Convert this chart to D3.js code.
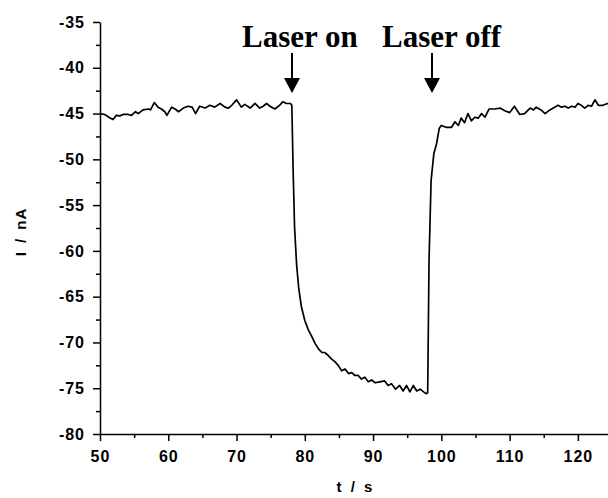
<!DOCTYPE html>
<html>
<head>
<meta charset="utf-8">
<script src="https://cdn.jsdelivr.net/npm/d3@7"></script>
<style>
    html, body { margin: 0; padding: 0; background: #fff; }
    svg { display: block; }
</style>
</head>
<body>
<svg id="chart"></svg>
<script>
// Photocurrent trace
const timeS = [
    50.0, 50.7, 51.3, 51.9, 52.4, 52.9, 53.4, 54.1, 54.6, 55.2, 55.6, 56.3, 57.1, 57.4, 57.95,
    58.5, 59.0, 59.5, 59.8, 60.5, 61.0, 61.5, 62.2, 62.9, 63.5, 64.0, 64.6, 65.4, 66.1, 66.8,
    67.6, 68.3, 68.8, 69.3, 70.0, 70.7, 71.2, 72.0, 72.7, 73.4, 73.9, 74.4, 74.9, 75.6, 76.3,
    76.8, 77.3, 77.9, 78.1, 78.3, 78.5, 78.8, 79.1, 79.5, 80.0, 80.5, 81.0, 81.5, 82.0, 82.5,
    82.9, 83.4, 83.9, 84.4, 84.9, 85.4, 85.9, 86.4, 86.9, 87.3, 87.8, 88.3, 88.8, 89.3, 89.8,
    90.3, 91.0, 91.7, 92.2, 92.7, 93.3, 93.9, 94.4, 94.9, 95.4, 95.9, 96.4, 96.9, 97.4, 97.8,
    98.0, 98.2, 98.5, 98.9, 99.3, 99.7, 100.0, 100.7, 101.5, 102.0, 102.5, 102.9, 103.4, 103.9, 104.4,
    104.9, 105.4, 105.9, 106.4, 107.0, 107.8, 108.6, 109.3, 110.0, 110.7, 111.5, 112.2, 113.0, 113.5, 113.9,
    114.6, 115.2, 115.9, 116.6, 117.1, 117.6, 118.1, 118.6, 119.1, 119.6, 120.0, 120.5, 121.0, 121.5, 122.0,
    122.5, 123.0, 123.7, 124.3, 125.0
];
const currentNA = [
    -45.0, -45.1, -45.4, -45.65, -45.2, -45.25, -45.1, -45.1, -45.2, -44.8, -45.0, -44.6, -44.5, -44.6, -43.8,
    -44.3, -44.5, -44.8, -45.2, -44.3, -44.5, -44.8, -44.4, -44.2, -44.3, -45.0, -44.2, -44.4, -44.1, -44.3,
    -43.9, -44.3, -44.4, -44.1, -43.5, -44.3, -44.0, -44.4, -43.9, -44.4, -44.2, -43.9, -44.2, -44.5, -44.1,
    -43.7, -43.9, -43.9, -44.1, -51.5, -57.4, -61.5, -64.0, -66.1, -67.6, -68.6, -69.3, -70.1, -70.7, -71.1,
    -71.1, -71.4, -71.8, -72.1, -72.5, -73.1, -72.9, -73.4, -73.3, -73.6, -73.6, -74.0, -73.8, -74.3, -74.1,
    -74.4, -74.3, -74.2, -74.7, -74.5, -75.1, -74.7, -75.3, -74.7, -75.4, -74.7, -75.3, -75.1, -75.4, -75.6,
    -75.5, -61.0, -52.3, -49.4, -48.3, -46.6, -46.3, -46.5, -46.5, -45.9, -46.3, -45.5, -46.0, -45.0, -45.8,
    -45.4, -45.5, -45.0, -45.4, -44.5, -44.5, -44.4, -44.7, -44.9, -44.2, -45.1, -45.0, -44.4, -44.6, -44.3,
    -44.6, -45.0, -44.6, -44.3, -44.1, -44.3, -44.2, -44.4, -44.2, -44.3, -43.9, -44.1, -44.4, -44.1, -44.2,
    -43.5, -44.1, -44.1, -43.9, -44.0
];

// Axis ticks
const xMajorTicks = [50, 60, 70, 80, 90, 100, 110, 120];
const xMinorTicks = [55, 65, 75, 85, 95, 105, 115, 125];
const yMajorTicks = [-80, -75, -70, -65, -60, -55, -50, -45, -40, -35];
const yMinorTicks = [-77.5, -72.5, -67.5, -62.5, -57.5, -52.5, -47.5, -42.5, -37.5];

// Annotations: label and time where the arrow points
const annotationLabels = ["Laser on", "Laser off"];
const annotationTimes = [78.1, 98.6];

const svgWidth = 608;
const svgHeight = 498;

const svg = d3.select("#chart")
    .attr("width", svgWidth)
    .attr("height", svgHeight);

// Scales
const x = d3.scaleLinear()
    .domain([50, 125])
    .range([100, 612]);

const y = d3.scaleLinear()
    .domain([-80, -35])
    .range([434, 22]);

const tickFont = "Arial, 'Liberation Sans', sans-serif";

// plain hyphen for negatives, like the original
const plainFormat = d => String(d);

// X axis, major then minor ticks
svg.append("g")
    .attr("transform", `translate(0,${y(-80)})`)
    .call(d3.axisBottom(x)
        .tickValues(xMajorTicks)
        .tickSize(7)
        .tickSizeOuter(0)
        .tickPadding(10)
        .tickFormat(plainFormat));

svg.append("g")
    .attr("transform", `translate(0,${y(-80)})`)
    .call(d3.axisBottom(x)
        .tickValues(xMinorTicks)
        .tickSize(4)
        .tickSizeOuter(0)
        .tickFormat(""))
    .call(g => g.select(".domain").remove());

// Y axis, major then minor ticks
svg.append("g")
    .attr("transform", `translate(${x(50)},0)`)
    .call(d3.axisLeft(y)
        .tickValues(yMajorTicks)
        .tickSize(7)
        .tickSizeOuter(0)
        .tickPadding(8)
        .tickFormat(plainFormat));

svg.append("g")
    .attr("transform", `translate(${x(50)},0)`)
    .call(d3.axisLeft(y)
        .tickValues(yMinorTicks)
        .tickSize(4)
        .tickSizeOuter(0)
        .tickFormat(""))
    .call(g => g.select(".domain").remove());

// Axis styling
svg.selectAll(".domain, .tick line")
    .attr("stroke", "#000")
    .attr("stroke-width", 1.5);

svg.selectAll(".tick text")
    .attr("fill", "#000")
    .attr("font-family", tickFont)
    .attr("font-weight", "bold")
    .attr("font-size", 16)
    .attr("letter-spacing", 1);

// Axis titles
svg.append("text")
    .attr("text-anchor", "middle")
    .attr("transform", "rotate(-90)")
    .attr("x", -232)
    .attr("y", 26)
    .attr("font-family", tickFont)
    .attr("font-weight", "bold")
    .attr("font-size", 15)
    .attr("letter-spacing", 1)
    .attr("word-spacing", 3)
    .text("I / nA");

svg.append("text")
    .attr("text-anchor", "middle")
    .attr("x", 355)
    .attr("y", 492)
    .attr("font-family", tickFont)
    .attr("font-weight", "bold")
    .attr("font-size", 15)
    .attr("letter-spacing", 1)
    .attr("word-spacing", 3)
    .text("t / s");

// Current trace
const line = d3.line()
    .x((d, i) => x(timeS[i]))
    .y(d => y(d));

svg.append("path")
    .datum(currentNA)
    .attr("fill", "none")
    .attr("stroke", "#000")
    .attr("stroke-width", 1.7)
    .attr("stroke-linejoin", "round")
    .attr("d", line);

// Annotations with arrows
const arrowTop = 53;
const arrowTip = 93;
const headHeight = 15;
const headHalfWidth = 8;

annotationLabels.forEach((label, i) => {
    const ax = Math.round(x(annotationTimes[i]));

    svg.append("text")
        .attr("x", ax - 50)
        .attr("y", 47)
        .attr("font-family", "'Times New Roman', 'Liberation Serif', serif")
        .attr("font-weight", "bold")
        .attr("font-size", 31)
        .attr("fill", "#000")
        .text(label);

    svg.append("line")
        .attr("x1", ax)
        .attr("x2", ax)
        .attr("y1", arrowTop)
        .attr("y2", arrowTip - headHeight + 1)
        .attr("stroke", "#000")
        .attr("stroke-width", 2);

    svg.append("path")
        .attr("d", `M${ax - headHalfWidth},${arrowTip - headHeight} L${ax + headHalfWidth},${arrowTip - headHeight} L${ax},${arrowTip} Z`)
        .attr("fill", "#000");
});
</script>
</body>
</html>
